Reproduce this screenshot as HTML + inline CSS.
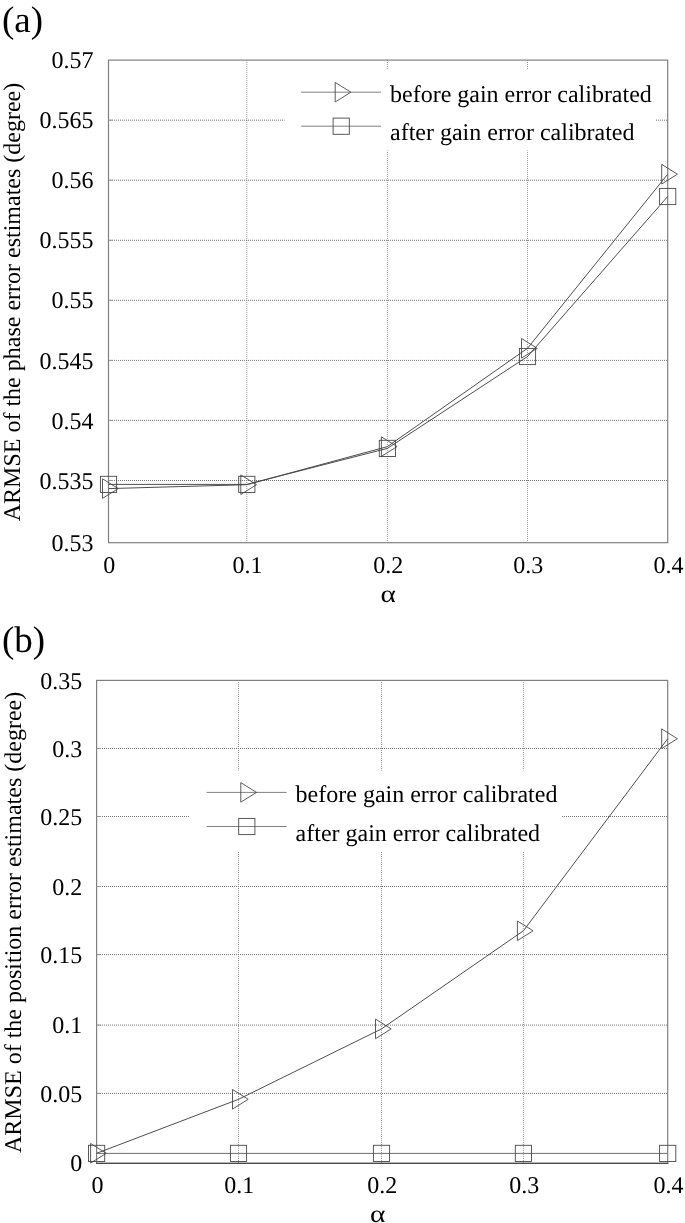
<!DOCTYPE html>
<html><head><meta charset="utf-8"><style>
html,body{margin:0;padding:0;background:#fff;}
svg{display:block;filter:grayscale(1);text-rendering:geometricPrecision;font-family:"Liberation Serif",serif;font-size:24px;}
.g{stroke:#747474;stroke-width:1;fill:none;stroke-dasharray:1 1;}
.f{stroke-width:1.2;}
.d{stroke:#444;stroke-width:0.95;fill:none;}
.m{stroke:#484848;stroke-width:0.9;fill:none;}
.lg{stroke:#7a7a7a;}
.hz{stroke:#666;}
.gv{stroke:#969696;}
.pl{font-size:37px;}
.al{font-size:24.5px;}
</style></head><body>
<svg width="685" height="1223" viewBox="0 0 685 1223">
<rect width="685" height="1223" fill="#fff"/>
<g>
<line x1="246.8" y1="60" x2="246.8" y2="542.7" class="g gv"/>
<line x1="387.4" y1="60" x2="387.4" y2="542.7" class="g gv"/>
<line x1="527.5" y1="60" x2="527.5" y2="542.7" class="g gv"/>
<line x1="108" y1="120.2" x2="667.7" y2="120.2" class="g"/>
<line x1="108" y1="180.2" x2="667.7" y2="180.2" class="g"/>
<line x1="108" y1="240.3" x2="667.7" y2="240.3" class="g"/>
<line x1="108" y1="300.3" x2="667.7" y2="300.3" class="g"/>
<line x1="108" y1="360.4" x2="667.7" y2="360.4" class="g"/>
<line x1="108" y1="420.4" x2="667.7" y2="420.4" class="g"/>
<line x1="108" y1="480.5" x2="667.7" y2="480.5" class="g"/>
</g>
<line x1="108.5" y1="120.2" x2="112.8" y2="120.2" stroke="#999" stroke-width="1"/>
<line x1="108.5" y1="180.2" x2="112.8" y2="180.2" stroke="#999" stroke-width="1"/>
<line x1="108.5" y1="240.3" x2="112.8" y2="240.3" stroke="#999" stroke-width="1"/>
<line x1="108.5" y1="300.3" x2="112.8" y2="300.3" stroke="#999" stroke-width="1"/>
<line x1="108.5" y1="360.4" x2="112.8" y2="360.4" stroke="#999" stroke-width="1"/>
<line x1="108.5" y1="420.4" x2="112.8" y2="420.4" stroke="#999" stroke-width="1"/>
<line x1="108.5" y1="480.5" x2="112.8" y2="480.5" stroke="#999" stroke-width="1"/>
<rect x="284.5" y="70" width="371.5" height="80.5" fill="#fff"/>
<rect x="108.5" y="60.1" width="559.2" height="482.6" fill="none" stroke="#808080" class="f"/>
<polyline points="108.50,488.60 246.80,484.70 387.40,446.60 527.50,348.30 667.70,174.20" class="d"/>
<path d="M102.50 478.80L118.20 488.60L102.50 498.40Z" class="m"/>
<path d="M240.80 474.90L256.50 484.70L240.80 494.50Z" class="m"/>
<path d="M381.40 436.80L397.10 446.60L381.40 456.40Z" class="m"/>
<path d="M521.50 338.50L537.20 348.30L521.50 358.10Z" class="m"/>
<path d="M661.70 164.40L677.40 174.20L661.70 184.00Z" class="m"/>
<polyline points="108.50,484.40 246.80,484.40 387.40,448.40 527.50,356.50 667.70,196.50" class="d"/>
<rect x="100.40" y="476.30" width="16.20" height="16.20" class="m"/>
<rect x="238.70" y="476.30" width="16.20" height="16.20" class="m"/>
<rect x="379.30" y="440.30" width="16.20" height="16.20" class="m"/>
<rect x="519.40" y="348.40" width="16.20" height="16.20" class="m"/>
<rect x="659.60" y="188.40" width="16.20" height="16.20" class="m"/>
<line x1="301.1" y1="92.2" x2="381" y2="92.2" class="d lg"/>
<path d="M335.20 82.40L350.90 92.20L335.20 102.00Z" class="m"/>
<line x1="301.1" y1="126.2" x2="381" y2="126.2" class="d lg"/>
<rect x="333.10" y="118.10" width="16.20" height="16.20" class="m"/>
<text x="390" y="101.7">before gain error calibrated</text>
<text x="390" y="140.2">after gain error calibrated</text>
<text x="93.5" y="60.1" text-anchor="end" dy="0.34em">0.57</text>
<text x="93.5" y="120.2" text-anchor="end" dy="0.34em">0.565</text>
<text x="93.5" y="180.2" text-anchor="end" dy="0.34em">0.56</text>
<text x="93.5" y="240.3" text-anchor="end" dy="0.34em">0.555</text>
<text x="93.5" y="300.3" text-anchor="end" dy="0.34em">0.55</text>
<text x="93.5" y="360.4" text-anchor="end" dy="0.34em">0.545</text>
<text x="93.5" y="420.4" text-anchor="end" dy="0.34em">0.54</text>
<text x="93.5" y="480.5" text-anchor="end" dy="0.34em">0.535</text>
<text x="93.5" y="542.7" text-anchor="end" dy="0.34em">0.53</text>
<text x="109.30" y="572.6" text-anchor="middle">0</text>
<text x="247.60" y="572.6" text-anchor="middle">0.1</text>
<text x="388.20" y="572.6" text-anchor="middle">0.2</text>
<text x="528.30" y="572.6" text-anchor="middle">0.3</text>
<text x="668.50" y="572.6" text-anchor="middle">0.4</text>
<text transform="translate(388.2 602) scale(1.2 1)" text-anchor="middle" class="al">α</text>
<text transform="translate(20.1 302) rotate(-90)" text-anchor="middle">ARMSE of the phase error estimates (degree)</text>
<text x="2" y="32" class="pl">(a)</text>
<g>
<line x1="238.5" y1="680" x2="238.5" y2="1163.3" class="g gv"/>
<line x1="381.5" y1="680" x2="381.5" y2="1163.3" class="g gv"/>
<line x1="523.4" y1="680" x2="523.4" y2="1163.3" class="g gv"/>
<line x1="96" y1="748.5" x2="667.7" y2="748.5" class="g"/>
<line x1="96" y1="816.5" x2="667.7" y2="816.5" class="g"/>
<line x1="96" y1="886.5" x2="667.7" y2="886.5" class="g"/>
<line x1="96" y1="954.6" x2="667.7" y2="954.6" class="g"/>
<line x1="96" y1="1025.1" x2="667.7" y2="1025.1" class="g"/>
<line x1="96" y1="1093.4" x2="667.7" y2="1093.4" class="g"/>
</g>
<line x1="96.6" y1="748.5" x2="100.89999999999999" y2="748.5" stroke="#999" stroke-width="1"/>
<line x1="96.6" y1="816.5" x2="100.89999999999999" y2="816.5" stroke="#999" stroke-width="1"/>
<line x1="96.6" y1="886.5" x2="100.89999999999999" y2="886.5" stroke="#999" stroke-width="1"/>
<line x1="96.6" y1="954.6" x2="100.89999999999999" y2="954.6" stroke="#999" stroke-width="1"/>
<line x1="96.6" y1="1025.1" x2="100.89999999999999" y2="1025.1" stroke="#999" stroke-width="1"/>
<line x1="96.6" y1="1093.4" x2="100.89999999999999" y2="1093.4" stroke="#999" stroke-width="1"/>
<rect x="190" y="770.5" width="372" height="80.5" fill="#fff"/>
<rect x="96.6" y="680.4" width="571.1" height="482.9" fill="none" stroke="#808080" class="f"/>
<line x1="96.0" y1="1163.3999999999999" x2="668.3000000000001" y2="1163.3999999999999" stroke="#4a4a4a" stroke-width="1.2"/>
<polyline points="96.60,1153.30 238.50,1099.30 381.50,1028.90 523.40,930.80 667.70,738.70" class="d"/>
<path d="M90.60 1143.50L106.30 1153.30L90.60 1163.10Z" class="m"/>
<path d="M232.50 1089.50L248.20 1099.30L232.50 1109.10Z" class="m"/>
<path d="M375.50 1019.10L391.20 1028.90L375.50 1038.70Z" class="m"/>
<path d="M517.40 921.00L533.10 930.80L517.40 940.60Z" class="m"/>
<path d="M661.70 728.90L677.40 738.70L661.70 748.50Z" class="m"/>
<polyline points="96.60,1153.40 238.50,1153.40 381.50,1153.40 523.40,1153.40 667.70,1153.40" class="d hz"/>
<rect x="88.50" y="1145.30" width="16.20" height="16.20" class="m"/>
<rect x="230.40" y="1145.30" width="16.20" height="16.20" class="m"/>
<rect x="373.40" y="1145.30" width="16.20" height="16.20" class="m"/>
<rect x="515.30" y="1145.30" width="16.20" height="16.20" class="m"/>
<rect x="659.60" y="1145.30" width="16.20" height="16.20" class="m"/>
<line x1="206.6" y1="792.4" x2="286.7" y2="792.4" class="d lg"/>
<path d="M240.80 782.60L256.50 792.40L240.80 802.20Z" class="m"/>
<line x1="206.6" y1="826.5" x2="286.7" y2="826.5" class="d lg"/>
<rect x="238.70" y="818.40" width="16.20" height="16.20" class="m"/>
<text x="295.6" y="802.3">before gain error calibrated</text>
<text x="295.6" y="840.5">after gain error calibrated</text>
<text x="82.2" y="680.4" text-anchor="end" dy="0.34em">0.35</text>
<text x="82.2" y="748.5" text-anchor="end" dy="0.34em">0.3</text>
<text x="82.2" y="816.5" text-anchor="end" dy="0.34em">0.25</text>
<text x="82.2" y="886.5" text-anchor="end" dy="0.34em">0.2</text>
<text x="82.2" y="954.6" text-anchor="end" dy="0.34em">0.15</text>
<text x="82.2" y="1025.1" text-anchor="end" dy="0.34em">0.1</text>
<text x="82.2" y="1093.4" text-anchor="end" dy="0.34em">0.05</text>
<text x="82.2" y="1163.3" text-anchor="end" dy="0.34em">0</text>
<text x="97.40" y="1193.3" text-anchor="middle">0</text>
<text x="239.30" y="1193.3" text-anchor="middle">0.1</text>
<text x="382.30" y="1193.3" text-anchor="middle">0.2</text>
<text x="524.20" y="1193.3" text-anchor="middle">0.3</text>
<text x="668.50" y="1193.3" text-anchor="middle">0.4</text>
<text transform="translate(377.8 1222) scale(1.2 1)" text-anchor="middle" class="al">α</text>
<text transform="translate(21.0 922.4) rotate(-90)" text-anchor="middle">ARMSE of the position error estimates (degree)</text>
<text x="2" y="652" class="pl">(b)</text>
</svg>
</body></html>
